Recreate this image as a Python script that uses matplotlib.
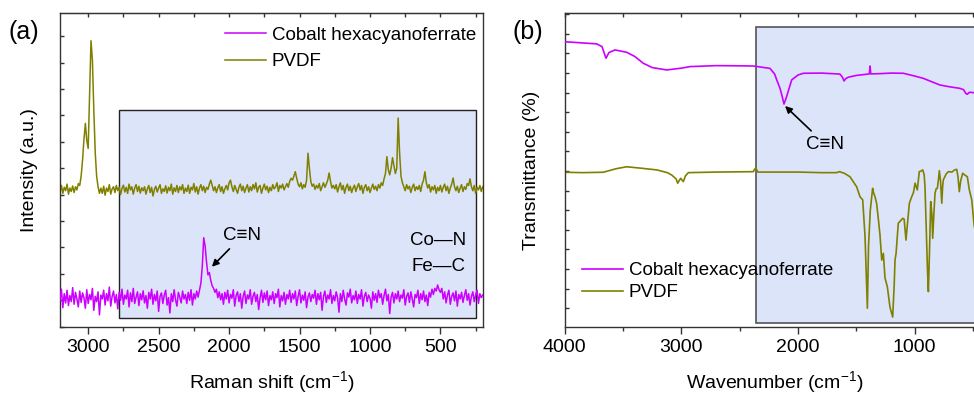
import numpy as np
import matplotlib
matplotlib.use("Agg")
import matplotlib.pyplot as plt
import matplotlib.patches as patches

plt.rcParams['font.family'] = ['Liberation Sans', 'DejaVu Sans']
plt.rcParams['mathtext.fontset'] = 'custom'
plt.rcParams['mathtext.rm'] = 'Liberation Sans'
plt.rcParams['mathtext.default'] = 'regular'

MAGENTA = '#cc00ff'
OLIVE = '#808000'
BOX = '#dce4f9'

# ---- (a) Raman, every 10 cm-1 from 3200 down to 200 ----
raman_shift = np.arange(3200, 199, -10)

raman_pvdf = [
    5.10, 5.35, 5.05, 5.28, 5.15, 5.40, 5.02, 5.25, 5.12, 5.33, 5.08, 5.30, 5.18, 5.42, 5.35,   # 3200
    5.70, 6.30, 7.10, 7.70, 7.05, 6.75, 8.80, 10.83, 10.10, 8.20, 6.60, 5.70, 5.30, 5.05, 5.25,  # 3050
    5.05, 5.32, 4.98, 5.25, 5.12, 5.38, 5.02, 5.22, 5.30, 5.08, 5.35, 5.15, 5.28, 5.00, 5.24,   # 2900
    5.36, 5.10, 5.28, 5.05, 5.40, 5.18, 5.30, 5.02, 5.25, 5.38, 5.12, 5.32, 5.06, 5.26, 5.15,   # 2750
    5.30, 5.02, 5.22, 5.35, 5.08, 5.28, 4.95, 5.20, 5.32, 5.10, 5.25, 5.38, 5.05, 5.22, 5.12,   # 2600
    5.34, 5.06, 5.28, 5.15, 5.40, 5.02, 5.26, 5.12, 5.35, 5.08, 5.30, 5.18, 5.38, 5.05, 5.25,   # 2450
    5.12, 5.36, 5.05, 5.28, 5.18, 5.42, 5.10, 5.30, 5.02, 5.25, 5.38, 5.15, 5.32, 5.08, 5.28,   # 2300
    5.20, 5.40, 5.55, 5.35, 5.15, 5.30, 5.08, 5.26, 5.38, 5.12, 5.30, 5.05, 5.22, 5.35, 5.18,   # 2150
    5.45, 5.55, 5.30, 5.12, 5.35, 5.20, 5.05, 5.28, 5.40, 5.15, 5.32, 5.08, 5.25, 5.38, 5.10,   # 2000
    5.30, 5.15, 5.38, 5.22, 5.45, 5.10, 5.28, 5.35, 5.05, 5.25, 5.40, 5.18, 5.32, 5.08, 5.28,   # 1850
    5.15, 5.38, 5.22, 5.30, 5.45, 5.12, 5.35, 5.25, 5.40, 5.18, 5.30, 5.42, 5.28, 5.50, 5.62,   # 1700
    5.55, 5.70, 5.87, 5.62, 5.40, 5.30, 5.45, 5.22, 5.38, 5.28, 5.55, 6.57, 6.00, 5.50, 5.32,   # 1550
    5.40, 5.20, 5.35, 5.25, 5.42, 5.15, 5.30, 5.45, 5.28, 5.40, 5.55, 5.82, 5.50, 5.25, 5.35,   # 1400
    5.22, 5.38, 5.10, 5.30, 5.45, 5.18, 5.35, 5.05, 5.28, 5.40, 5.15, 5.32, 5.08, 5.25, 5.36,   # 1250
    5.12, 5.30, 5.42, 5.18, 5.35, 5.05, 5.28, 5.38, 5.15, 5.30, 5.08, 5.25, 5.40, 5.20, 5.32,   # 1100
    5.15, 5.38, 5.25, 5.45, 5.35, 5.60, 5.80, 6.44, 5.95, 5.75, 6.00, 6.40, 6.10, 5.80, 6.00,   # 950
    7.90, 6.60, 5.70, 5.45, 5.30, 5.15, 5.38, 5.22, 5.32, 5.08, 5.28, 5.40, 5.15, 5.30, 5.20,   # 800
    5.35, 5.12, 5.40, 5.55, 5.87, 5.45, 5.25, 5.38, 5.10, 5.30, 5.18, 5.35, 5.05, 5.28, 5.15,   # 650
    5.35, 5.10, 5.28, 5.40, 5.15, 5.32, 5.05, 5.25, 5.40, 5.63, 5.30, 5.15, 5.32, 5.08, 5.25,   # 500
    5.38, 5.12, 5.30, 5.20, 5.42, 5.35, 5.60, 5.30, 5.15, 5.35, 5.05, 5.28, 5.18, 5.35, 5.12,   # 350
    5.30,                                                                                       # 200
]

raman_cohcf = [
    1.00, 1.42, 0.72, 1.25, 0.90, 1.38, 0.80, 1.18, 0.95, 1.48, 0.85, 1.30, 1.05, 0.75, 1.35,   # 3200
    0.92, 1.28, 1.10, 0.70, 1.40, 0.88, 1.22, 1.02, 1.45, 0.62, 1.15, 0.95, 1.32, 0.45, 1.20,   # 3050
    1.05, 1.38, 0.82, 1.25, 0.98, 1.50, 0.78, 1.15, 1.35, 0.90, 1.22, 0.68, 1.30, 1.00, 1.42,   # 2900
    0.85, 1.20, 1.05, 1.38, 0.75, 1.28, 0.95, 1.45, 0.88, 1.12, 1.32, 0.80, 1.25, 1.02, 1.36,   # 2750
    0.90, 1.18, 0.70, 1.30, 1.05, 1.42, 0.85, 1.22, 0.98, 1.35, 0.58, 1.15, 1.28, 0.88, 1.20,   # 2600
    1.38, 0.82, 1.10, 0.52, 1.25, 0.95, 1.40, 1.02, 0.78, 1.30, 1.12, 0.90, 1.35, 1.05, 1.22,   # 2450
    0.88, 1.30, 1.00, 1.40, 0.82, 1.25, 1.05, 1.35, 1.12, 1.38, 1.65, 2.30, 3.37, 3.05, 2.45,   # 2300
    1.96, 2.05, 1.75, 1.55, 1.45, 1.30, 1.42, 1.10, 1.32, 1.02, 1.25, 0.85, 1.30, 1.05, 1.38,   # 2150
    0.90, 1.22, 1.08, 1.40, 0.78, 1.18, 1.32, 0.95, 1.25, 0.70, 1.15, 1.35, 0.88, 1.20, 1.05,   # 2000
    1.40, 0.85, 1.15, 1.30, 0.95, 1.22, 0.65, 1.10, 1.38, 0.92, 1.28, 1.02, 1.35, 0.80, 1.18,   # 1850
    1.02, 1.32, 0.88, 1.25, 1.10, 1.42, 0.75, 1.18, 0.98, 1.30, 0.85, 1.22, 1.05, 1.38, 0.92,   # 1700
    1.25, 1.05, 1.35, 0.80, 1.15, 1.40, 0.90, 1.20, 1.00, 1.32, 0.72, 1.12, 1.28, 0.95, 1.22,   # 1550
    1.08, 1.38, 0.85, 1.25, 1.02, 1.30, 0.62, 1.15, 1.35, 0.92, 1.20, 1.05, 1.40, 0.88, 1.18,   # 1400
    0.98, 1.32, 1.10, 0.55, 1.25, 0.95, 1.38, 1.05, 0.82, 1.28, 1.12, 1.42, 0.90, 1.18, 1.02,   # 1250
    1.35, 0.88, 1.22, 1.05, 1.40, 0.78, 1.15, 1.30, 0.95, 1.20, 1.08, 0.70, 1.32, 1.00, 1.25,   # 1100
    0.92, 1.38, 1.10, 1.25, 0.85, 1.18, 1.42, 0.98, 1.22, 0.50, 1.12, 1.30, 0.90, 1.25, 1.05,   # 950
    1.35, 0.95, 1.20, 1.08, 1.40, 0.82, 1.15, 1.28, 0.92, 1.32, 1.05, 0.75, 1.22, 1.10, 1.38,   # 800
    0.88, 1.25, 1.02, 1.35, 0.95, 1.20, 0.80, 1.30, 1.12, 1.42, 1.22, 1.45, 1.35, 1.58, 1.40,   # 650
    1.30, 1.45, 1.05, 1.32, 0.90, 1.20, 1.38, 0.85, 1.15, 1.28, 0.98, 1.35, 0.78, 1.22, 1.05,   # 500
    1.30, 0.92, 1.18, 1.40, 1.00, 1.25, 0.82, 1.15, 1.32, 0.95, 1.20, 1.38, 0.88, 1.25, 1.10,   # 350
    1.20,                                                                                       # 200
]

# ---- (b) FTIR, points ----
ftir_cohcf_wn = [4000, 3900, 3800, 3726, 3680, 3660, 3646, 3620, 3569, 3469,
                 3400, 3326, 3250, 3125, 3000, 2926, 2700, 2500, 2383, 2240,
                 2200, 2182, 2154, 2135, 2120, 2100, 2054, 2000, 1954, 1800,
                 1640, 1620, 1605, 1590, 1568, 1500, 1397, 1388, 1382, 1376,
                 1300, 1200, 1097, 1000, 925, 850, 782, 700, 611, 580,
                 560, 548, 530, 490, 450, 400]
ftir_cohcf = [13.60, 13.56, 13.52, 13.49, 13.35, 13.00, 12.76, 13.05, 13.18, 13.06,
              12.85, 12.50, 12.28, 12.16, 12.25, 12.33, 12.38, 12.37, 12.36, 12.24,
              11.95, 11.65, 11.22, 10.80, 10.42, 10.75, 11.65, 11.90, 11.99, 12.00,
              11.95, 11.80, 11.60, 11.72, 11.79, 11.88, 11.95, 11.96, 12.36, 11.96,
              11.97, 12.00, 11.99, 11.85, 11.73, 11.55, 11.39, 11.30, 11.22, 11.15,
              10.95, 10.92, 11.02, 11.00, 11.02, 11.00]

ftir_pvdf_wn = [4000, 3850, 3669, 3560, 3469, 3350, 3211, 3120, 3083, 3045,
                3031, 3015, 3005, 2995, 2983, 2965, 2940, 2700, 2383, 2362,
                2345, 2000, 1800, 1668, 1645, 1600, 1554, 1525, 1497, 1480,
                1468, 1445, 1425, 1405, 1395, 1380, 1360, 1355, 1340, 1326,
                1310, 1297, 1282, 1268, 1254, 1234, 1211, 1188, 1175, 1168,
                1159, 1140, 1102, 1090, 1074, 1060, 1045, 1025, 1010, 996,
                977, 960, 945, 930, 918, 911, 900, 890, 882, 872,
                862, 852, 845, 835, 825, 815, 805, 795, 788, 778,
                767, 760, 754, 730, 711, 680, 660, 639, 628, 617,
                605, 588, 570, 548, 531, 510, 490, 450, 400]
ftir_pvdf = [6.94, 6.92, 6.94, 7.12, 7.22, 7.15, 7.06, 6.92, 6.80, 6.60,
             6.38, 6.55, 6.63, 6.55, 6.46, 6.75, 6.92, 6.95, 6.97, 7.17,
             6.95, 6.95, 6.92, 6.92, 6.97, 6.88, 6.71, 6.45, 6.20, 5.90,
             5.69, 5.53, 3.65, 0.00, 3.20, 5.00, 6.12, 5.95, 5.70, 5.36,
             4.50, 3.75, 2.46, 2.80, 1.55, 1.10, 0.05, -0.45, 1.20, 2.46,
             2.80, 4.34, 4.59, 4.55, 3.48, 4.40, 5.36, 5.69, 5.90, 6.38,
             6.04, 6.97, 7.00, 7.06, 6.80, 6.20, 4.00, 2.00, 0.85, 3.00,
             5.44, 4.80, 3.57, 4.80, 5.87, 6.10, 6.12, 6.60, 7.02, 6.50,
             5.36, 6.20, 6.55, 6.85, 6.97, 6.95, 7.05, 7.09, 6.70, 5.95,
             6.50, 6.89, 6.80, 6.71, 6.04, 5.53, 4.25, 3.00, 2.50]

labels = ['Cobalt hexacyanoferrate', 'PVDF']


def style_axes(ax, major, minor):
    for s in ax.spines.values():
        s.set_color('#333333')
        s.set_linewidth(1.0)
    ax.xaxis.set_major_locator(plt.MultipleLocator(major))
    ax.xaxis.set_minor_locator(plt.MultipleLocator(minor))
    ax.tick_params(axis='x', which='major', direction='out', length=5, width=1,
                   labelsize=14, pad=4, color='#333333')
    ax.tick_params(axis='x', which='minor', direction='out', length=3, width=1,
                   color='#333333')
    ax.tick_params(axis='y', which='both', direction='in', length=3, width=1,
                   left=True, right=False, labelleft=False, color='#333333')
    top = ax.secondary_xaxis('top')
    top.xaxis.set_major_locator(plt.MultipleLocator(minor))
    top.tick_params(direction='in', length=3, width=1, labeltop=False,
                    color='#333333')
    top.spines['top'].set_color('#333333')


fig = plt.figure(figsize=(9.74, 3.96), dpi=100)

# ---------------- (a) ----------------
ax1 = fig.add_axes([60 / 974, 1 - 326.7 / 396, 422.7 / 974, 313.7 / 396])
ax1.add_patch(patches.Rectangle((250, 0.34), 2530, 7.86, facecolor=BOX,
                                edgecolor='#222222', lw=1.0, zorder=1))
l_pvdf, = ax1.plot(raman_shift, raman_pvdf, color=OLIVE, lw=1.1, zorder=2)
l_co, = ax1.plot(raman_shift, raman_cohcf, color=MAGENTA, lw=1.1, zorder=3)
ax1.set_xlim(3200, 200)
ax1.set_ylim(0, 11.88)
ax1.set_yticks(np.arange(0, 12))
style_axes(ax1, 500, 250)
ax1.set_xlabel('Raman shift (cm$^{-1}$)', fontsize=14, labelpad=9)
ax1.set_ylabel('Intensity (a.u.)', fontsize=14, labelpad=16)
ax1.legend([l_co, l_pvdf], labels, loc='upper right', frameon=False,
           fontsize=13.5, handlelength=2.2, handletextpad=0.3,
           labelspacing=0.5, borderaxespad=0, bbox_to_anchor=(1.002, 0.981))
ax1.annotate('C≡N', xy=(2122, 2.27), xytext=(1905, 3.45), fontsize=13.5,
             ha='center', va='center',
             arrowprops=dict(arrowstyle='-|>', color='black', lw=1.2,
                             mutation_scale=10, shrinkA=2, shrinkB=0))
ax1.text(321, 3.28, 'Co—N', fontsize=13.5, ha='right', va='center')
ax1.text(321, 2.27, 'Fe—C', fontsize=13.5, ha='right', va='center')

# ---------------- (b) ----------------
ax2 = fig.add_axes([564.7 / 974, 1 - 326.7 / 396, 419.9 / 974, 313.4 / 396])
ax2.add_patch(patches.Rectangle((400, -0.73), 1960, 15.1, facecolor=BOX,
                                edgecolor='#555555', lw=1.2, zorder=1))
f_co, = ax2.plot(ftir_cohcf_wn, ftir_cohcf, color=MAGENTA, lw=1.2, zorder=3)
f_pvdf, = ax2.plot(ftir_pvdf_wn, ftir_pvdf, color=OLIVE, lw=1.2, zorder=2)
ax2.set_xlim(4000, 400)
ax2.set_ylim(-0.94, 15.05)
ax2.set_yticks(np.arange(0, 16))
style_axes(ax2, 1000, 500)
ax2.set_xlabel('Wavenumber (cm$^{-1}$)', fontsize=14, labelpad=9)
ax2.set_ylabel('Transmittance (%)', fontsize=14, labelpad=18)
ax2.legend([f_co, f_pvdf], labels, loc='lower left', frameon=False,
           fontsize=13.5, handlelength=2.2, handletextpad=0.3,
           labelspacing=0.27, borderaxespad=0, bbox_to_anchor=(0.0226, 0.057))
ax2.annotate('C≡N', xy=(2111, 10.32), xytext=(1768, 8.38), fontsize=13.5,
             ha='center', va='center',
             arrowprops=dict(arrowstyle='-|>', color='black', lw=1.2,
                             mutation_scale=10, shrinkA=2, shrinkB=0))

fig.text(8 / 974, 1 - 32.5 / 396, '(a)', fontsize=18, ha='left', va='center')
fig.text(512 / 974, 1 - 32 / 396, '(b)', fontsize=18, ha='left', va='center')

fig.savefig('out.png', dpi=100)
